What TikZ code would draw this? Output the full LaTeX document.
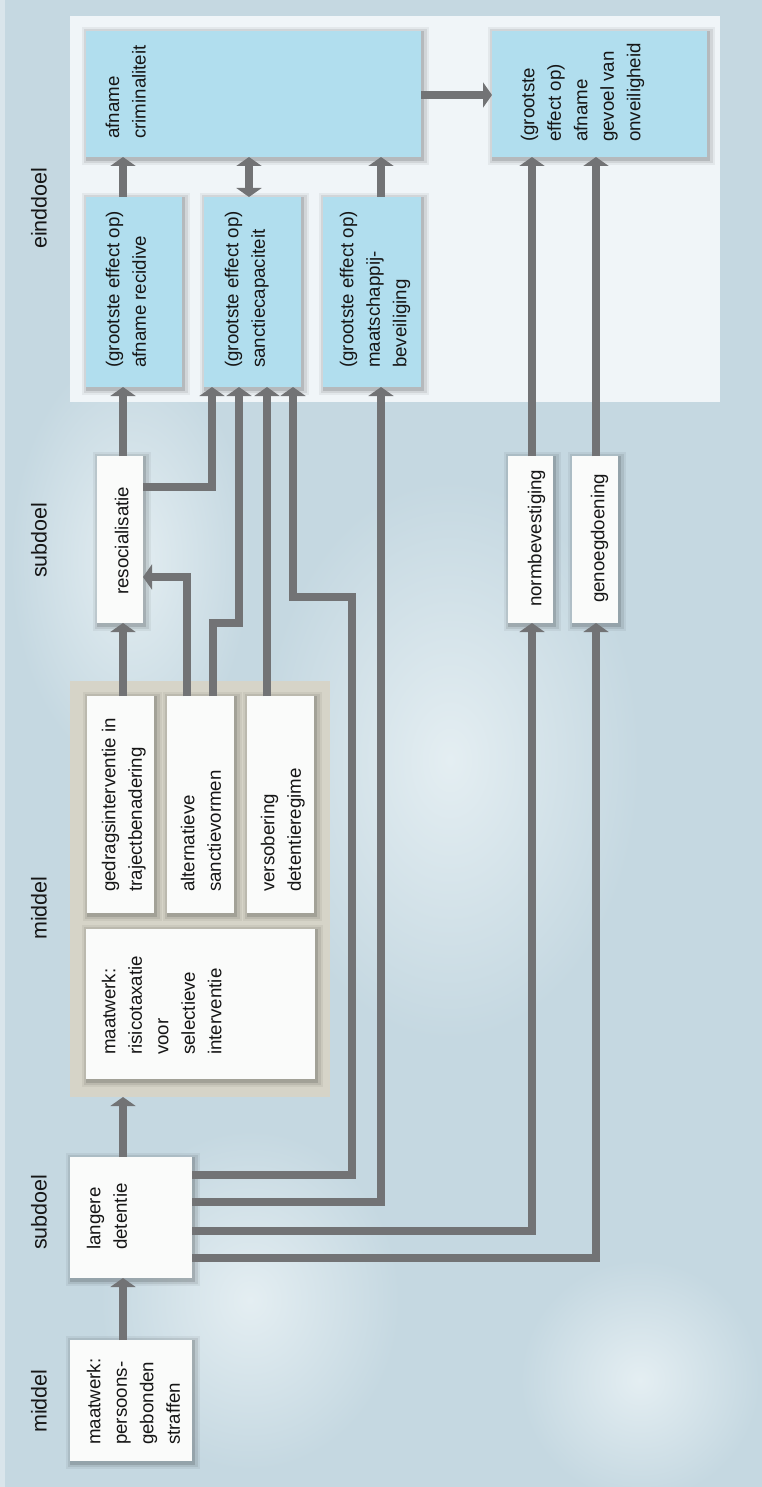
\documentclass[tikz,border=0pt]{standalone}
\usepackage{fontspec}
\setmainfont{Liberation Sans}
\usetikzlibrary{arrows.meta}
\definecolor{bg}{HTML}{C5D8E1}
\definecolor{bglight}{HTML}{E4EEF2}
\definecolor{bluebox}{HTML}{B1DEEE}
\definecolor{whitebox}{HTML}{FAFBFA}
\definecolor{connc}{HTML}{727375}
\definecolor{midpanel}{HTML}{D6D4C8}
\definecolor{txtc}{HTML}{161616}
\definecolor{epanel}{HTML}{F4F8FA}
\newcommand\mkbox[6]{\node[box,#6,minimum width={(#4)-(#2)},minimum height={(#5)-(#3)}] (#1) at (#2,#3) {};}
\newcommand\mktext[4]{\node[lbl] (#1) at (#2,#3) {#4};}
\newcommand\mkhead[3]{\node[hdr] (#1) at (46.5,#2) {#3};}
\begin{document}
\begin{tikzpicture}[x=1pt,y=-1pt,
  box/.style={rectangle,inner sep=0pt,outer sep=0pt,anchor=north west,draw=none},
  shd/.style={
    preaction={draw=black,line width=12pt,draw opacity=0.05,transform canvas={shift={(1.5pt,-2pt)}}},
    preaction={draw=black,line width=8pt,draw opacity=0.08,transform canvas={shift={(1.5pt,-2pt)}}},
    preaction={draw=black,line width=3.5pt,draw opacity=0.13,transform canvas={shift={(1.5pt,-2pt)}}}},
  bluestyle/.style={shd,fill=bluebox},
  whitestyle/.style={shd,fill=whitebox},
  lbl/.style={rotate=90,anchor=north west,align=left,inner sep=0pt,text=txtc,
    font=\fontsize{18.7pt}{26.5pt}\selectfont},
  hdr/.style={rotate=90,anchor=base west,inner sep=0pt,text=txtc,
    font=\fontsize{21.5pt}{26pt}\selectfont},
  conn/.style={draw=connc,line width=7.5pt,line join=miter,
    -{Triangle[width=25pt,length=9pt]}},
  dconn/.style={draw=connc,line width=7.5pt,line join=miter,
    {Triangle[width=25pt,length=9pt]}-{Triangle[width=25pt,length=9pt]}},
  glow/.style={inner color=bglight,outer color=bg,draw=none}
]
% background
\fill[bg] (0,0) rectangle (762,1487);
\useasboundingbox (0,0) rectangle (762,1487);
\shade[glow] (450,760) ellipse [x radius=190pt,y radius=280pt];
\shade[glow] (250,1300) ellipse [x radius=150pt,y radius=170pt];
\shade[glow] (130,560) ellipse [x radius=120pt,y radius=210pt];
\shade[glow] (640,1380) ellipse [x radius=120pt,y radius=120pt];
\fill[white,fill opacity=0.35] (0,0) rectangle (5,1487);

% panels
\mkbox{epan}{70}{16}{720}{402}{fill=epanel,fill opacity=0.92}
\mkbox{mpanel}{70}{681}{330}{1097}{fill=midpanel}

% einddoel boxes
\mkbox{crim}{86}{31}{421}{157}{bluestyle}
\mkbox{gevoel}{492}{31}{707}{157}{bluestyle}
\mkbox{recid}{86}{197}{182}{387}{bluestyle}
\mkbox{sanct}{204}{197}{301}{387}{bluestyle}
\mkbox{maats}{323}{197}{421}{387}{bluestyle}
% subdoel boxes
\mkbox{resoc}{97}{456}{143}{623}{whitestyle}
\mkbox{normb}{508}{456}{553}{623}{whitestyle}
\mkbox{genoeg}{572}{456}{618}{623}{whitestyle}
% middel boxes
\mkbox{gedrag}{87}{696}{154}{913}{whitestyle}
\mkbox{altern}{167}{696}{234}{913}{whitestyle}
\mkbox{versob}{247}{696}{314}{913}{whitestyle}
\mkbox{risico}{86}{929}{315}{1079}{whitestyle}
\mkbox{langer}{70}{1157}{192}{1278}{whitestyle}
\mkbox{pers}{70}{1340}{192}{1461}{whitestyle}

% texts
\mktext{crimt}{105.5}{139}{afname\\criminaliteit}
\mktext{gevoelt}{520.5}{142}{(grootste\\effect op)\\afname\\gevoel van\\onveiligheid}
\mktext{recidt}{105.5}{368}{(grootste effect op)\\afname recidive}
\mktext{sanctt}{224.5}{368}{(grootste effect op)\\sanctiecapaciteit}
\mktext{maatst}{339.5}{368}{(grootste effect op)\\maatschappij-\\beveiliging}
\mktext{resoct}{114.5}{595}{resocialisatie}
\mktext{normbt}{527.5}{607}{normbevestiging}
\mktext{genoegt}{590.5}{603}{genoegdoening}
\mktext{gedragt}{101.5}{892}{gedragsinterventie in\\trajectbenadering}
\mktext{alternt}{180.5}{892}{alternatieve\\sanctievormen}
\mktext{versobt}{260.5}{892}{versobering\\detentieregime}
\mktext{risicot}{101.5}{1055}{maatwerk:\\risicotaxatie\\voor\\selectieve\\interventie}
\mktext{langert}{86.5}{1250}{langere\\detentie}
\mktext{perst}{86.5}{1445}{maatwerk:\\persoons-\\gebonden\\straffen}

% headers
\mkhead{h1}{249}{einddoel}
\mkhead{h2}{578}{subdoel}
\mkhead{h3}{940}{middel}
\mkhead{h4}{1250}{subdoel}
\mkhead{h5}{1433}{middel}

% connectors
\draw[conn] (123,0 |- pers.north) -- (123,0 |- langer.south);
\draw[conn] (123,0 |- langer.north) -- (123,0 |- mpanel.south);
\draw[conn] (langer.east |- 0,1175) -- (352,1175) -- (352,597) -- (293,597) -- (293,0 |- sanct.south);
\draw[conn] (langer.east |- 0,1202) -- (381,1202) -- (381,0 |- maats.south);
\draw[conn] (langer.east |- 0,1231) -- (532,1231) -- (532,0 |- normb.south);
\draw[conn] (langer.east |- 0,1258) -- (596,1258) -- (596,0 |- genoeg.south);
\draw[conn] (123,0 |- gedrag.north) -- (123,0 |- resoc.south);
\draw[conn] (187,0 |- altern.north) -- (187,577) -- (resoc.east |- 0,577);
\draw[conn] (213,0 |- altern.north) -- (213,623) -- (239,623) -- (239,0 |- sanct.south);
\draw[conn] (267,0 |- versob.north) -- (267,0 |- sanct.south);
\draw[conn] (resoc.east |- 0,487) -- (212,487) -- (212,0 |- sanct.south);
\draw[conn] (123,0 |- resoc.north) -- (123,0 |- recid.south);
\draw[conn] (123,0 |- recid.north) -- (123,0 |- crim.south);
\draw[dconn] (249,0 |- sanct.north) -- (249,0 |- crim.south);
\draw[conn] (381,0 |- maats.north) -- (381,0 |- crim.south);
\draw[conn] (crim.east |- 0,95) -- (gevoel.west |- 0,95);
\draw[conn] (532,0 |- normb.north) -- (532,0 |- gevoel.south);
\draw[conn] (596,0 |- genoeg.north) -- (596,0 |- gevoel.south);
\end{tikzpicture}
\end{document}
